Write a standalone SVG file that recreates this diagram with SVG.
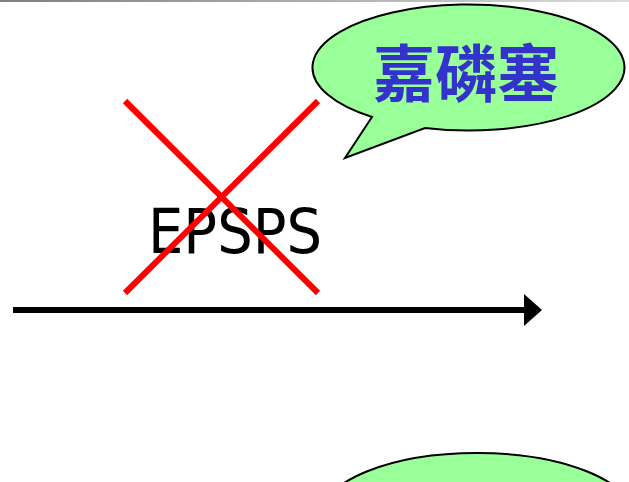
<svg xmlns="http://www.w3.org/2000/svg" width="629" height="482" viewBox="0 0 629 482">
  <defs>
    <linearGradient id="bar" x1="0" y1="0" x2="1" y2="0">
      <stop offset="0" stop-color="#7f7f7f"/>
      <stop offset="1" stop-color="#dcdcdc"/>
    </linearGradient>
    <marker id="arrow" markerUnits="userSpaceOnUse" markerWidth="20" markerHeight="32" refX="0" refY="16" orient="auto">
      <path d="M0,0 L18,16 L0,32 Z" fill="#000"/>
    </marker>
    <style>
      .bubble { fill: #99FF99; stroke: #000; stroke-width: 2; }
      .cross { stroke: #FF0000; stroke-width: 6; }
    </style>
  </defs>
  <rect width="629" height="482" fill="#fff"/>
  <rect x="0" y="0" width="629" height="2" fill="url(#bar)"/>

  <g id="bubble-top">
    <path class="bubble" d="M372,117 L345,158 L425,128 A156 63 0 1 0 372,117 Z"/>
    <text x="466" y="97" text-anchor="middle" font-family="'Noto Sans CJK TC','Noto Sans CJK SC',sans-serif" font-weight="bold" font-size="62" fill="#3333CC">嘉磷塞</text>
  </g>

  <g id="bubble-bottom">
    <ellipse class="bubble" cx="477" cy="516" rx="156" ry="63"/>
  </g>

  <g id="epsps">
    <text x="148" y="253" font-family="'DejaVu Sans Condensed','DejaVu Sans',sans-serif" font-size="62" textLength="174" lengthAdjust="spacingAndGlyphs" fill="#000">EPSPS</text>
  </g>

  <g id="cross">
    <line class="cross" x1="125" y1="101" x2="318" y2="293"/>
    <line class="cross" x1="318" y1="101" x2="125" y2="293"/>
  </g>

  <g id="connectors">
    <line x1="13" y1="310" x2="524" y2="310" stroke="#000" stroke-width="6" marker-end="url(#arrow)"/>
  </g>
</svg>
